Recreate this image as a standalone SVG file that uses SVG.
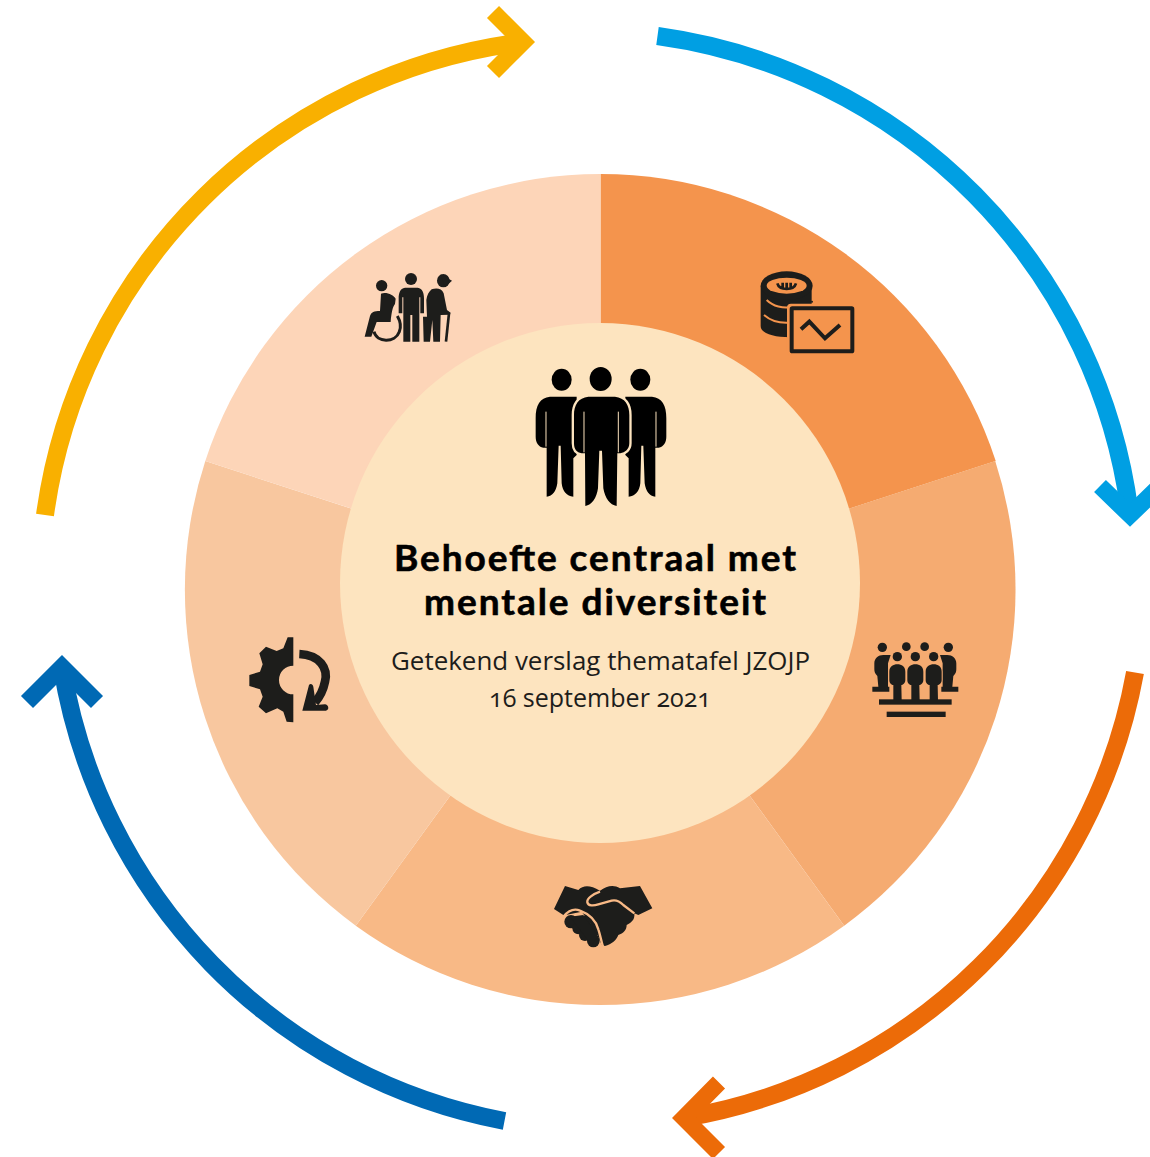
<svg xmlns="http://www.w3.org/2000/svg" width="1150" height="1157" viewBox="0 0 1150 1157">
<style>
.arc{fill:none;stroke-width:17;stroke-linejoin:miter;stroke-miterlimit:10}
.shaft{stroke-width:18}
.ic{fill:#1d1d1b}
.t{text-anchor:middle;font-variant-numeric:oldstyle-nums}
.h{font-family:Lato,"Open Sans",sans-serif;font-size:37px;font-weight:700;fill:#000;stroke:#000;stroke-width:.6}
.s{font-family:"Open Sans","Noto Sans",sans-serif;font-size:25px;fill:#1d1d1b}
</style>
<rect width="1150" height="1157" fill="#fff"/>
<g id="connectors">
<g stroke="#f9b000" class="arc"><path class="shaft" d="M45 515A552 552 0 0 1 523 42"/><polyline points="493,12 523,42 493,72"/></g>
<g stroke="#009fe3" class="arc"><path class="shaft" d="M657.500 36A552 552 0 0 1 1130 515"/><polyline points="1100,486 1130,515 1160,486"/></g>
<g stroke="#ec6b08" class="arc"><path class="shaft" d="M1135 672.500A552 552 0 0 1 684 1118"/><polyline points="719,1082.500 684,1118 719,1153"/></g>
<g stroke="#0069b4" class="arc"><path class="shaft" d="M504.500 1121A552 552 0 0 1 62 667"/><polyline points="27,702 62,667 97,702"/></g>
</g>
<g id="seg-finance">
<path d="M600.500 589.500V174A415.500 415.500 0 0 1 995.700 461.100Z" fill="#f4944d"/>
<g class="ic" transform="translate(740 250) scale(.3333)">
<path d="M62 107V228C62 250 100 262 150 262V170H215V107Z"/>
<ellipse cx="140" cy="107" rx="78" ry="43"/>
<ellipse cx="140" cy="107" rx="60" ry="24" fill="#f4944d"/>
<path d="M112 100C118 122 162 122 168 100M128 98V116M140 98V118M152 98V116" fill="none" stroke="#1d1d1b" stroke-width="8"/>
<path d="M80 150C100 170 130 175 150 172M72 195C95 215 125 220 150 218" fill="none" stroke="#f4944d" stroke-width="6"/>
<circle cx="216" cy="155" r="3"/>
<rect x="148" y="168" width="195" height="142" rx="5" fill="#f4944d" stroke="#f4944d" stroke-width="14"/>
<rect x="155" y="175" width="182" height="129" rx="2" fill="#f4944d" stroke="#1d1d1b" stroke-width="12"/>
<path d="M183 238L208 215L255 265L300 225" fill="none" stroke="#1d1d1b" stroke-width="12"/>
</g>
</g>
<g id="seg-network">
<path d="M600 589.500L995.200 461.100A415.500 415.500 0 0 1 844.200 925.700Z" fill="#f5ab71"/>
<g class="ic" transform="translate(860 630) scale(.3333)">
<circle cx="67" cy="52" r="14"/><circle cx="139" cy="50" r="13"/><circle cx="194" cy="50" r="13"/><circle cx="265" cy="52" r="14"/>
<path d="M43 100C43 85 55 75 70 75H92L84 100V170H88V185H37V170H55L52 138C45 132 43 125 43 118Z"/>
<path d="M289 100C289 85 277 75 262 75H240L248 100V170H244V185H295V170H277L280 138C287 132 289 125 289 118Z"/>
<g stroke="#f5ab71" stroke-width="4" paint-order="stroke">
<circle cx="112" cy="80" r="14"/><circle cx="166" cy="80" r="14"/><circle cx="221" cy="80" r="14"/>
<path d="M88 125C88 110 100 103 112 103C125 103 136 110 136 125V150C136 160 128 165 124 165L125 210H100L100 165C95 165 88 160 88 150Z"/>
<path d="M142 125C142 110 154 103 166 103C179 103 190 110 190 125V150C190 160 182 165 178 165L179 210H154L154 165C149 165 142 160 142 150Z"/>
<path d="M197 125C197 110 209 103 221 103C234 103 245 110 245 125V150C245 160 237 165 233 165L234 210H209L209 165C204 165 197 160 197 150Z"/>
</g>
<rect x="57" y="208" width="218" height="16"/><rect x="80" y="245" width="177" height="16"/>
</g>
</g>
<g id="seg-handshake">
<path d="M600 589.500L844.200 925.700A415.500 415.500 0 0 1 355.800 925.700Z" fill="#f8b986"/>
<g class="ic" transform="translate(545 870) scale(.3333)">
<path d="M60 48L100 60C115 45 135 45 165 62C185 48 205 42 225 55L285 48L322 115L280 135L268 130C270 150 260 157 245 165C245 180 235 190 220 195C215 210 200 222 180 228L170 225L150 180L110 125L62 135L55 135L27 117Z"/>
<circle cx="78" cy="155" r="20"/><circle cx="100" cy="175" r="18"/><circle cx="120" cy="195" r="18"/><circle cx="145" cy="213" r="19"/><circle cx="120" cy="155" r="18"/><circle cx="143" cy="180" r="20"/><path d="M75 140L115 135L160 200L140 225Z"/>
<path d="M55 140C70 122 88 115 105 122C132 132 152 150 160 178C166 195 168 212 174 230" fill="none" stroke="#f8b986" stroke-width="7"/>
<path d="M165 65C145 72 125 85 127 97C130 108 145 108 160 103L200 92C215 88 225 95 235 105L268 130" fill="none" stroke="#f8b986" stroke-width="7"/>
</g>
</g>
<g id="seg-process">
<path d="M600 589.500L355.800 925.700A415.500 415.500 0 0 1 205.300 461.100Z" fill="#f8c79f"/>
<g class="ic" transform="translate(240 625) scale(.3333)">
<path d="M160 37H143L130 70L110 78L78 65L58 85L68 118L60 140L28 150V183L60 193L68 215L56 245L78 265L112 250L130 260L140 290L160 292V208A43 43 0 0 1 160 122Z"/>
<path d="M178 87C240 90 265 130 255 170C250 195 240 215 225 232" fill="none" stroke="#1d1d1b" stroke-width="26"/>
<path d="M207 180L187 257H258C270 255 265 238 255 238L228 240L220 185C218 175 210 175 207 180Z"/>
</g>
</g>
<g id="seg-people">
<path d="M600.500 589.500L205.300 461.100A415.500 415.500 0 0 1 600.500 174Z" fill="#fdd5b8"/>
<g class="ic" transform="translate(350 260) scale(.3333)">
<circle cx="95" cy="77" r="17"/>
<path d="M93 101C110 95 130 105 137 116L135 132C128 140 124 160 122 186H80L64 230H44L60 168C64 156 72 153 90 153Z"/>
<path d="M142 168C152 185 154 200 148 215C135 250 80 248 72 215" fill="none" stroke="#1d1d1b" stroke-width="9"/>
<circle cx="183" cy="57" r="18"/>
<path d="M165 83H203C218 85 222 100 222 115V160H211V112H208V245H187V165H181V245H160V112H157V160H146V115C146 100 150 85 165 83Z"/>
<ellipse cx="280" cy="62" rx="19" ry="20"/><path d="M272 43L306 62L285 82Z"/>
<path d="M245 88C260 83 275 85 281 100L291 150L302 158L300 164L272 165L270 245H250L247 180L240 245H221L219 170H231L229 120C231 105 237 95 245 88Z"/>
<path d="M297 160L288 245" fill="none" stroke="#1d1d1b" stroke-width="8"/>
</g>
</g>
<g id="center">
<circle cx="600" cy="583" r="260" fill="#fde4bf"/>
<g transform="translate(520 355) scale(.3333)" fill="#000">
<ellipse cx="125" cy="74" rx="30" ry="33"/><ellipse cx="361" cy="74" rx="30" ry="33"/>
<path d="M90 125H170V300L160 310V425C140 423 128 410 125 385L122 272H116L112 385C108 410 98 423 80 425V278H70C55 275 47 262 47 245V190C47 150 60 128 90 125Z"/>
<path d="M396 125H316V300L326 310V425C346 423 358 410 361 385L364 272H370L374 385C378 410 388 423 406 425V278H416C431 275 439 262 439 245V190C439 150 426 128 396 125Z"/>
<path d="M78 170V275M408 170V275" stroke="#fde4bf" stroke-width="3" fill="none"/>
<ellipse cx="242" cy="72" rx="33" ry="36"/>
<path d="M205 125H285C315 128 328 150 328 180V265C328 283 315 293 301 295H292L290 453C270 450 255 430 250 400L246 287H238L234 400C230 430 215 450 196 453L195 295H185C170 293 162 283 162 265V180C162 150 175 128 205 125Z" stroke="#fde4bf" stroke-width="14" paint-order="stroke"/>
<path d="M192 170V292M295 170V292" stroke="#fde4bf" stroke-width="3" fill="none"/>
</g>
<text class="t h" x="595" y="571" textLength="402" lengthAdjust="spacing">Behoefte centraal met</text>
<text class="t h" x="595" y="615" textLength="342" lengthAdjust="spacing">mentale diversiteit</text>
<text class="t s" x="600.500" y="670" textLength="419" lengthAdjust="spacingAndGlyphs">Getekend verslag thematafel JZOJP</text>
<text class="t s" x="600" y="707" textLength="222" lengthAdjust="spacingAndGlyphs">16 september 2021</text>
</g>
</svg>
